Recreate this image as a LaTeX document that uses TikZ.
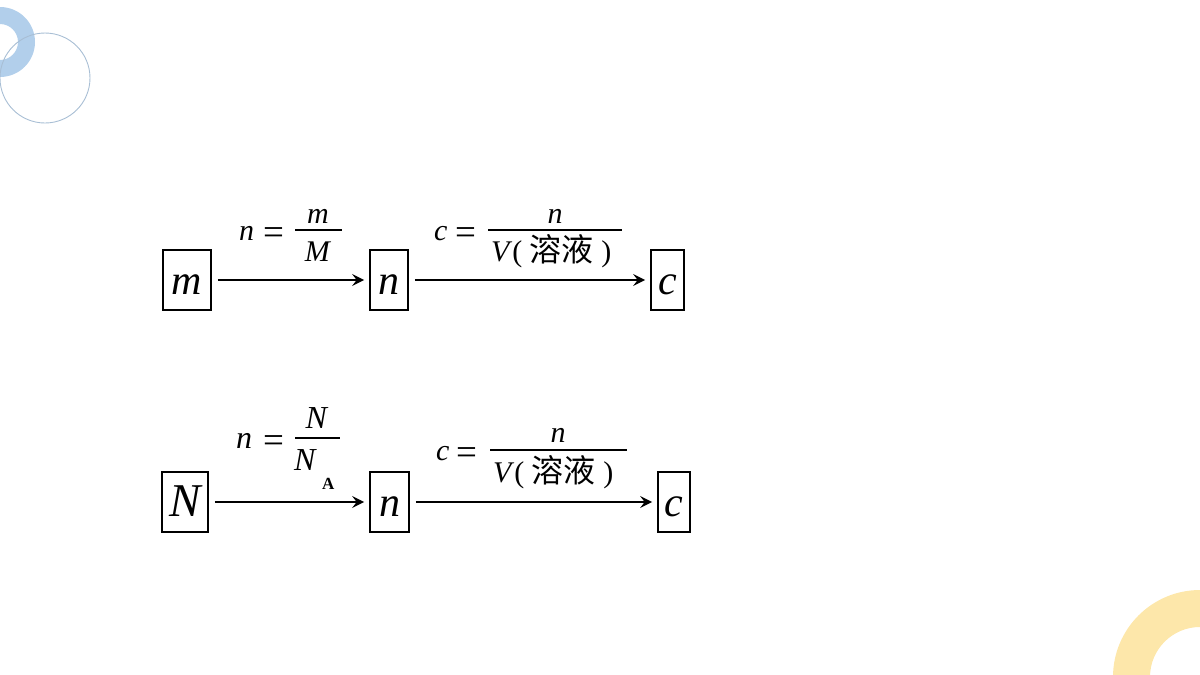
\documentclass[tikz,border=0pt]{standalone}
\usepackage{fontspec}
\setmainfont{Liberation Serif}
\newfontfamily\cjk{Noto Sans CJK SC}
\usetikzlibrary{arrows.meta}
\definecolor{ringblue}{RGB}{178,207,235}
\definecolor{thinblue}{RGB}{168,190,212}
\definecolor{ringyellow}{RGB}{253,231,170}
\newcommand{\cjktext}[1]{{\cjk\fontsize{32}{32}\selectfont #1}}
\begin{document}
\begin{tikzpicture}[x=1pt,y=-1pt,
  box/.style={draw, line width=1.7pt, minimum height=60pt, inner sep=0pt,
    text height=29pt, text depth=0pt,
    font=\fontsize{42}{42}\selectfont\itshape},
  conn/.style={line width=1.7pt, -{Stealth[length=12pt,width=12pt,inset=4.5pt]},
    shorten <=6pt, shorten >=5pt},
  lab/.style={font=\fontsize{30}{30}\selectfont, inner sep=0pt, anchor=base west},
  labc/.style={font=\fontsize{30}{30}\selectfont, inner sep=0pt, anchor=base},
  eq/.style={font=\fontsize{37}{37}\selectfont, inner sep=0pt, anchor=base west},
  fracbar/.style={line width=1.3pt}]
\useasboundingbox (0,0) rectangle (1200,675);
% decorations
\fill[ringblue, even odd rule] (0,42) circle[radius=35pt] (0,42) circle[radius=18pt];
\draw[thinblue, line width=0.9pt] (45,78) circle[radius=45pt];
\fill[ringyellow, even odd rule] (1200,677) circle[radius=87pt] (1200,677) circle[radius=50pt];
% row 1 boxes and arrows
\node[box, minimum width=48pt] (m) at (187,280) {m};
\node[box, minimum width=38pt] (n1) at (389,280) {n};
\node[box, minimum width=33pt] (c1) at (667.5,280) {c};
\draw[conn] (m) -- (n1);
\draw[conn] (n1) -- (c1);
% row 1 label 1
\node[lab] (a1) at (239,240) {\textit{n}};
\node[eq] (a2) at (263,244) {=};
\node[labc] (a3) at (318,223) {\textit{m}};
\draw[fracbar] (295,230) -- (342,230);
\node[labc] (a4) at (318,261) {\textit{M}};
% row 1 label 2
\node[lab] (b1) at (434,240) {\textit{c}};
\node[eq] (b2) at (455,244) {=};
\node[labc] (b3) at (555,223) {\textit{n}};
\draw[fracbar] (488,230) -- (622,230);
\node[lab] (b4) at (491,261) {\textit{V}( \cjktext{溶液} )};
% row 2 boxes and arrows
\node[box, minimum width=46pt, font=\fontsize{47}{47}\selectfont\itshape] (N) at (185,502) {N};
\node[box, minimum width=39pt] (n2) at (389.5,502) {n};
\node[box, minimum width=32pt] (c2) at (674,502) {c};
\draw[conn] (N) -- (n2);
\draw[conn] (n2) -- (c2);
% row 2 label 1
\node[lab, font=\fontsize{32}{32}\selectfont] (d1) at (236,448) {\textit{n}};
\node[eq] (d2) at (263,452) {=};
\node[labc, font=\fontsize{32}{32}\selectfont] (d3) at (317,428) {\textit{N}};
\draw[fracbar] (295,438) -- (340,438);
\node[lab, font=\fontsize{32}{32}\selectfont] (d4) at (294,470) {\textit{N}};
\node[lab, font=\fontsize{17}{17}\selectfont\bfseries] (d5) at (322,489) {A};
% row 2 label 2
\node[lab] (e1) at (436,460) {\textit{c}};
\node[eq] (e2) at (456,464) {=};
\node[labc] (e3) at (558,442) {\textit{n}};
\draw[fracbar] (490,450) -- (627,450);
\node[lab] (e4) at (493,482) {\textit{V}( \cjktext{溶液} )};
\end{tikzpicture}
\end{document}
